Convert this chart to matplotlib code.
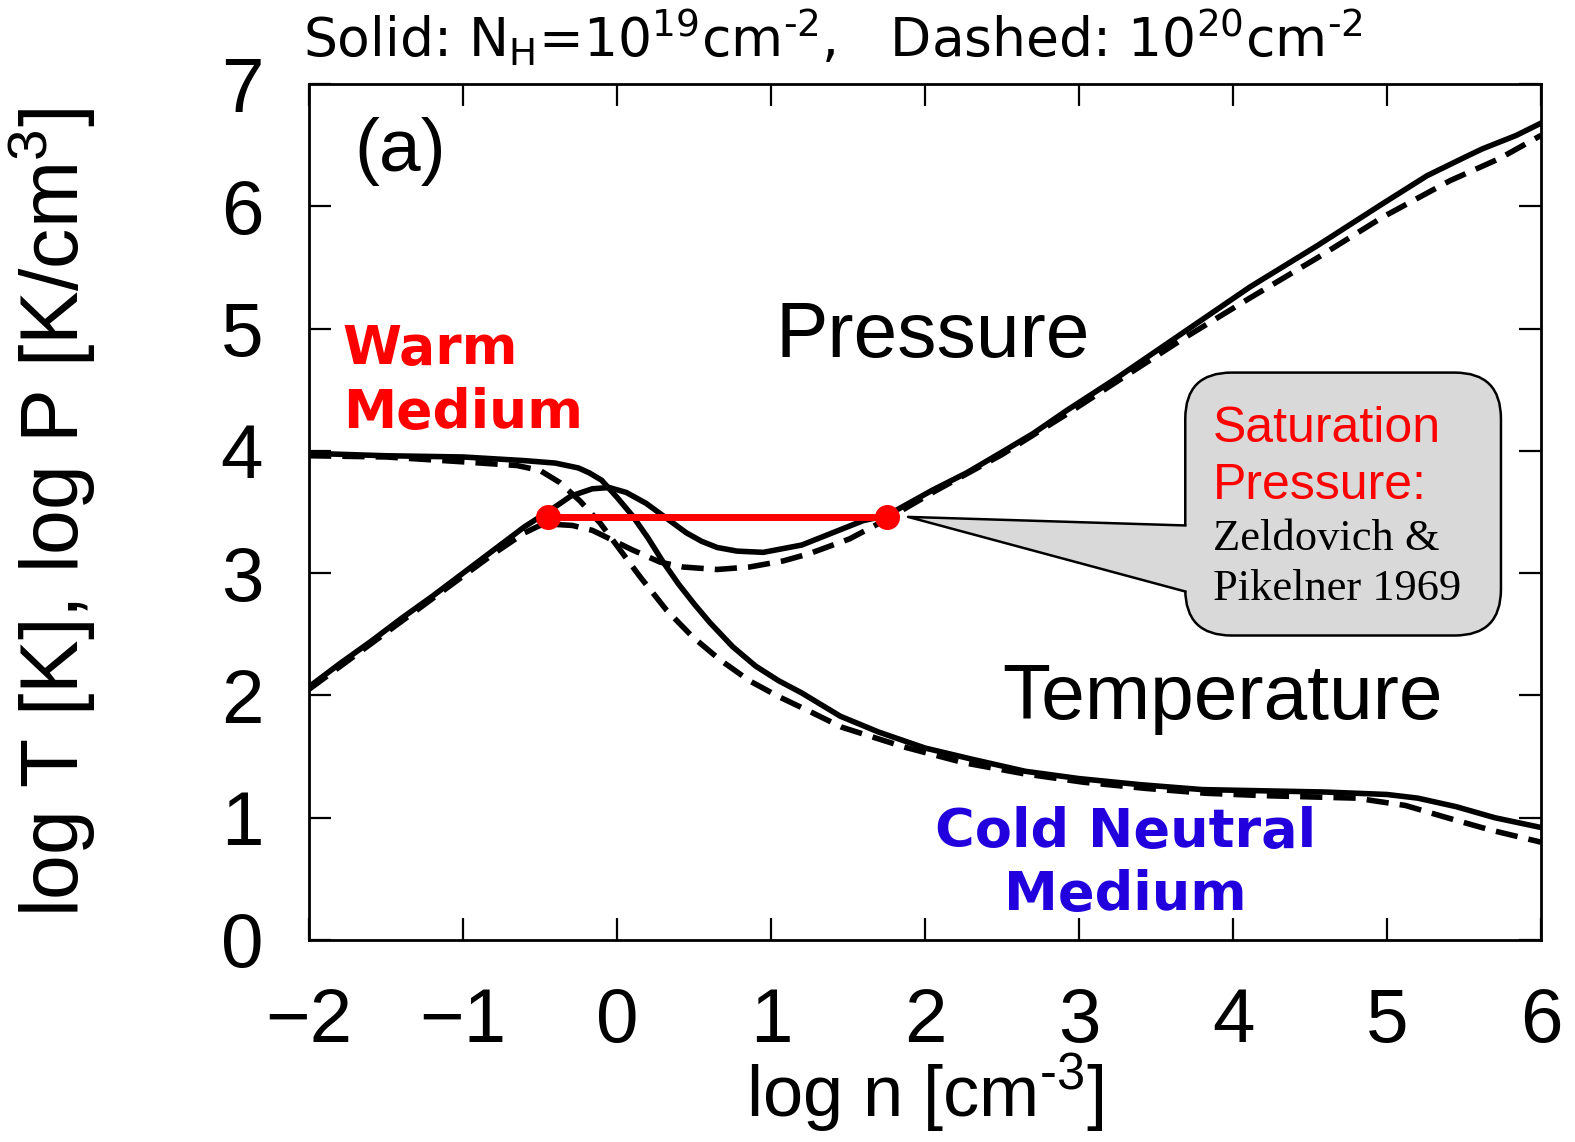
import matplotlib
matplotlib.use("Agg")
import matplotlib.pyplot as plt
from matplotlib.patches import FancyBboxPatch, Polygon

# log n [cm^-3] vs log T / log P
x_t19 = [-2.0, -1.5, -1.0, -0.6, -0.4, -0.25, -0.18, -0.1, 0.0, 0.1, 0.2, 0.3, 0.4, 0.5,
         0.6, 0.75, 0.9, 1.05, 1.2, 1.45, 1.7, 2.0, 2.3, 2.65, 3.0, 3.4, 3.8, 4.2, 4.6,
         5.0, 5.2, 5.45, 5.7, 6.0]
logT_19 = [3.98, 3.96, 3.95, 3.92, 3.90, 3.86, 3.82, 3.76, 3.62, 3.47, 3.29, 3.09, 2.91, 2.75,
           2.60, 2.40, 2.24, 2.12, 2.02, 1.83, 1.70, 1.57, 1.48, 1.38, 1.32, 1.27, 1.23, 1.22,
           1.21, 1.19, 1.16, 1.09, 1.00, 0.92]

x_t20 = [-2.0, -1.5, -1.0, -0.65, -0.5, -0.37, -0.24, -0.11, 0.02, 0.15, 0.32, 0.49, 0.67,
         0.86, 1.05, 1.25, 1.46, 1.86, 2.25, 2.64, 3.03, 3.43, 3.82, 4.21, 4.8, 5.12,
         5.39, 5.67, 6.0]
logT_20 = [3.96, 3.95, 3.91, 3.88, 3.84, 3.74, 3.59, 3.41, 3.19, 2.97, 2.70, 2.48, 2.29,
           2.12, 1.99, 1.87, 1.74, 1.58, 1.45, 1.36, 1.29, 1.24, 1.20, 1.18, 1.16, 1.10,
           1.00, 0.90, 0.80]

x_p19 = [-2.0, -1.8, -1.6, -1.4, -1.2, -1.0, -0.8, -0.6, -0.45, -0.3, -0.16, -0.05, 0.06,
         0.19, 0.32, 0.45, 0.55, 0.65, 0.78, 0.95, 1.2, 1.4, 1.6, 1.75, 2.05, 2.27, 2.5, 2.7,
         2.92, 3.25, 3.68, 4.11, 4.55, 4.97, 5.26, 5.52, 5.62, 5.84, 6.0]
logP_19 = [2.07, 2.26, 2.44, 2.63, 2.81, 3.00, 3.19, 3.38, 3.50, 3.63, 3.69, 3.70, 3.66,
           3.57, 3.45, 3.33, 3.26, 3.21, 3.18, 3.17, 3.23, 3.33, 3.43, 3.47, 3.68, 3.82, 3.99,
           4.14, 4.33, 4.60, 4.97, 5.34, 5.68, 6.02, 6.25, 6.41, 6.47, 6.58, 6.68]

x_p20 = [-2.0, -1.6, -1.2, -0.8, -0.6, -0.5, -0.42, -0.29, -0.16, -0.03, 0.10, 0.28, 0.43,
         0.65, 0.86, 1.08, 1.25, 1.51, 1.75, 2.05, 2.5, 2.92, 3.25, 3.68, 4.11, 4.55,
         4.97, 5.41, 5.73, 6.0]
logP_20 = [2.05, 2.42, 2.79, 3.16, 3.33, 3.39, 3.40, 3.39, 3.35, 3.27, 3.19, 3.09, 3.05,
           3.03, 3.05, 3.10, 3.16, 3.28, 3.44, 3.66, 3.97, 4.30, 4.57, 4.92, 5.25, 5.58,
           5.91, 6.21, 6.39, 6.58]

# saturation pressure segment
sat_x = [-0.45, 1.75]
sat_logP = 3.46

xticks = [-2, -1, 0, 1, 2, 3, 4, 5, 6]
yticks = [0, 1, 2, 3, 4, 5, 6, 7]

ARIAL = "Liberation Sans"
VERDANA = "DejaVu Sans"
TIMES = "Liberation Serif"
RED = "#ff0000"
BLUE = "#2200dd"
HY = "\u2010"  # short hyphen used in the exponents

plt.rcParams["font.family"] = ARIAL
plt.rcParams["axes.unicode_minus"] = True

fig = plt.figure(figsize=(15.75, 11.42), dpi=100)
ax = fig.add_axes([309 / 1575, 1 - 940 / 1142, 1232 / 1575, 856 / 1142])

lw = 4.0
ax.plot(x_t19, logT_19, color="black", lw=lw, solid_joinstyle="round")
ax.plot(x_p19, logP_19, color="black", lw=lw, solid_joinstyle="round")
ax.plot(x_t20, logT_20, color="black", lw=lw, dashes=(4, 2))
ax.plot(x_p20, logP_20, color="black", lw=lw, dashes=(4, 2))

ax.plot(sat_x, [sat_logP, sat_logP], color=RED, lw=5, zorder=5)
ax.plot(sat_x, [sat_logP, sat_logP], "o", color=RED, ms=17, zorder=6)

ax.set_xlim(-2, 6)
ax.set_ylim(0, 7)
ax.set_xticks(xticks)
ax.set_yticks(yticks)
ax.tick_params(direction="in", length=16, width=1.6, top=True, right=True,
               labelsize=55)
ax.tick_params(axis="y", pad=33)
ax.tick_params(axis="x", pad=34)
for s in ax.spines.values():
    s.set_linewidth(2)

ax.set_xlabel(f"log n [cm$^{{\\mathregular{{{HY}3}}}}$]", fontsize=52, labelpad=-5)
ax.set_ylabel(r"log T [K], log P [K/cm$^{\mathregular{3}}$]", fontsize=58, labelpad=88)

fig.text(303 / 1575, 1 - 56 / 1142,
         f"Solid: N$_{{\\mathregular{{H}}}}$=10$^{{\\mathregular{{19}}}}$cm$^{{\\mathregular{{{HY}2}}}}$,   "
         f"Dashed: 10$^{{\\mathregular{{20}}}}$cm$^{{\\mathregular{{{HY}2}}}}$",
         family=VERDANA, fontsize=38.5, ha="left", va="baseline")

ax.text(-1.41, 6.45, "(a)", fontsize=54, ha="center", va="center")
ax.text(1.03, 4.77, "Pressure", fontsize=56.5, ha="left", va="baseline")
ax.text(2.50, 1.81, "Temperature", fontsize=56.5, ha="left", va="baseline")

ax.text(-1.78, 4.71, "Warm", family=VERDANA, weight="bold", color=RED,
        fontsize=38.5, ha="left", va="baseline")
ax.text(-1.78, 4.19, "Medium", family=VERDANA, weight="bold", color=RED,
        fontsize=38.5, ha="left", va="baseline")
ax.text(3.30, 0.76, "Cold Neutral", family=VERDANA, weight="bold", color=BLUE,
        fontsize=39, ha="center", va="baseline")
ax.text(3.30, 0.245, "Medium", family=VERDANA, weight="bold", color=BLUE,
        fontsize=39, ha="center", va="baseline")

# callout box
box_l, box_r, box_b, box_t = 3.69, 5.74, 2.49, 4.64
aspect = 154 / 122.4
box = FancyBboxPatch((box_l, box_b), box_r - box_l, box_t - box_b,
                     boxstyle="round,pad=0,rounding_size=0.3",
                     mutation_aspect=aspect, facecolor="#d9d9d9",
                     edgecolor="black", lw=1.8, zorder=7)
ax.add_patch(box)
tip = (1.89, 3.46)
p_hi, p_lo = 3.39, 2.85
ax.add_patch(Polygon([tip, (box_l + 0.02, p_hi), (box_l + 0.02, p_lo)], closed=True,
                     facecolor="#d9d9d9", edgecolor="none", zorder=8))
ax.plot([box_l, tip[0], box_l], [p_hi, tip[1], p_lo], color="black", lw=1.8, zorder=9)

ax.text(3.87, 4.07, "Saturation", color=RED, fontsize=36, ha="left", va="baseline", zorder=10)
ax.text(3.87, 3.61, "Pressure:", color=RED, fontsize=36, ha="left", va="baseline", zorder=10)
ax.text(3.87, 3.19, "Zeldovich &", family=TIMES, fontsize=32, ha="left", va="baseline", zorder=10)
ax.text(3.87, 2.78, "Pikelner 1969", family=TIMES, fontsize=32, ha="left", va="baseline", zorder=10)

plt.savefig("out.png", dpi=100)
plt.close()
